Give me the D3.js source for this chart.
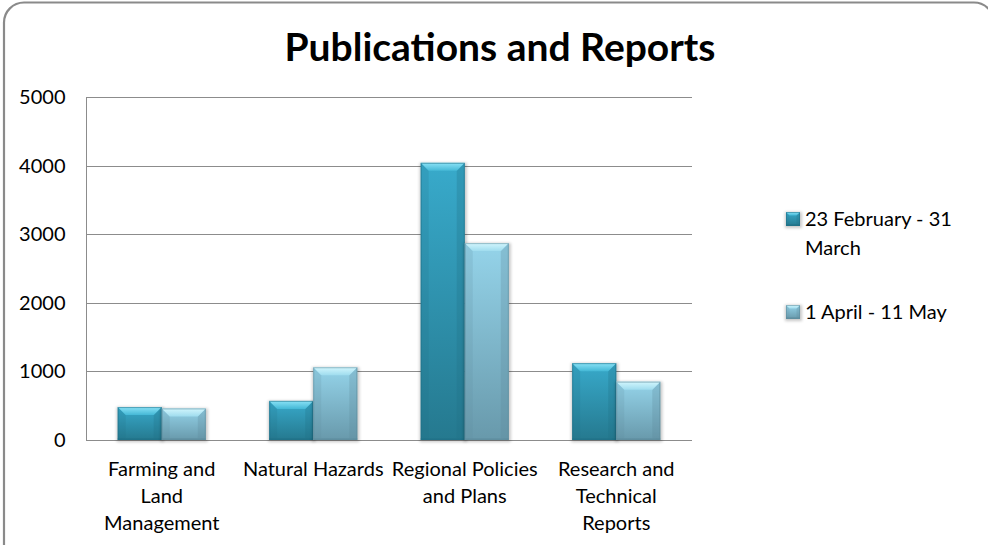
<!DOCTYPE html>
<html>
<head>
<meta charset="utf-8">
<script src="https://cdn.jsdelivr.net/npm/d3@7"></script>
<style>
  html, body { margin: 0; padding: 0; background: #fff; }
  svg { display: block; }
  text { font-family: Lato, "Noto Sans", sans-serif; fill: #000; }
</style>
</head>
<body>
<svg id="chart" width="988" height="545"></svg>
<script>
// ---- data ----
const categories = ["Farming and Land Management", "Natural Hazards", "Regional Policies and Plans", "Research and Technical Reports"];
const categoryLines = [
  ["Farming and", "Land", "Management"],
  ["Natural Hazards"],
  ["Regional Policies", "and Plans"],
  ["Research and", "Technical", "Reports"]
];
const seriesNames = ["23 February - 31 March", "1 April - 11 May"];
const legendLines = [["23 February - 31", "March"], ["1 April - 11 May"]];
const febMarch = [480, 570, 4040, 1120];
const aprilMay = [460, 1060, 2870, 850];
const yTicks = [0, 1000, 2000, 3000, 4000, 5000];
const titleText = "Publications and Reports";

// ---- layout ----
const plot = { left: 86, right: 692, top: 97, bottom: 440 };
const svg = d3.select("#chart");

// colour sets per series: body top/bottom, bevel light, edge dark
const palette = [
  { top: "#38aacb", bottom: "#25798f", bevelTop: "#8ae2f6", bevelMid: "#44b8d6", edge: "#1f6f86" },
  { top: "#95d4ea", bottom: "#6899ab", bevelTop: "#d2f6fd", bevelMid: "#9fdcee", edge: "#5c8a9b" }
];

const defs = svg.append("defs");
palette.forEach((p, i) => {
  const body = defs.append("linearGradient").attr("id", "body" + i)
    .attr("x1", 0).attr("y1", 0).attr("x2", 0).attr("y2", 1);
  body.append("stop").attr("offset", "0%").attr("stop-color", p.top);
  body.append("stop").attr("offset", "100%").attr("stop-color", p.bottom);
  const bev = defs.append("linearGradient").attr("id", "bevel" + i)
    .attr("x1", 0).attr("y1", 0).attr("x2", 0).attr("y2", 1);
  bev.append("stop").attr("offset", "0%").attr("stop-color", p.bevelTop);
  bev.append("stop").attr("offset", "100%").attr("stop-color", p.bevelMid);
});
const shadow = defs.append("filter").attr("id", "soft")
  .attr("x", "-20%").attr("y", "-20%").attr("width", "140%").attr("height", "140%");
shadow.append("feGaussianBlur").attr("stdDeviation", 1.6);

// ---- frame ----
svg.append("rect")
  .attr("x", 4).attr("y", 2.5).attr("width", 990).attr("height", 620)
  .attr("rx", 20).attr("ry", 20)
  .attr("fill", "#fff").attr("stroke", "#8a8a8a").attr("stroke-width", 2.2);

// ---- title ----
svg.append("text")
  .attr("x", 500).attr("y", 61)
  .attr("text-anchor", "middle")
  .style("font-size", "39px").style("font-weight", "bold")
  .text(titleText);

// ---- scales ----
const x0 = d3.scaleBand().domain(categories).range([plot.left, plot.right]).padding(0);
const x1 = d3.scaleBand().domain(seriesNames).range([0, x0.bandwidth()]).paddingInner(0).paddingOuter(0.72);
const y = d3.scaleLinear().domain([0, 5000]).range([plot.bottom, plot.top]);

// ---- gridlines ----
svg.append("g")
  .selectAll("line").data(yTicks).join("line")
  .attr("x1", plot.left).attr("x2", plot.right)
  .attr("y1", d => Math.round(y(d)) + 0.5).attr("y2", d => Math.round(y(d)) + 0.5)
  .attr("stroke", "#8c8c8c").attr("stroke-width", 1);

// ---- y axis ----
const yAxis = d3.axisLeft(y).tickValues(yTicks).tickSize(0).tickPadding(21).tickFormat(d3.format("d"));
const gy = svg.append("g").attr("transform", `translate(${plot.left + 0.5},0)`).call(yAxis);
gy.select(".domain").attr("stroke", "#8c8c8c").attr("d", `M0,${plot.top}V${plot.bottom}`);
gy.selectAll("text").style("font-size", "20px").style("font-family", "Lato, sans-serif").attr("fill", "#000");

// ---- bars ----
function bevelBar(g, bx, by, bw, bh, si, b) {
  const p = palette[si];
  b = Math.min(b, bh / 2, bw / 2);
  // soft shadow
  g.append("rect").attr("x", bx - 1).attr("y", by).attr("width", bw + 3).attr("height", bh + 2)
    .attr("fill", "#000").attr("opacity", 0.22).attr("filter", "url(#soft)");
  // body
  g.append("rect").attr("x", bx).attr("y", by).attr("width", bw).attr("height", bh)
    .attr("fill", `url(#body${si})`);
  // side bevels (slightly darker)
  g.append("path")
    .attr("d", `M${bx},${by}L${bx + b},${by + b}L${bx + b},${by + bh - 2}L${bx},${by + bh}Z`)
    .attr("fill", p.edge).attr("opacity", 0.18);
  g.append("path")
    .attr("d", `M${bx + bw},${by}L${bx + bw - b},${by + b}L${bx + bw - b},${by + bh - 2}L${bx + bw},${by + bh}Z`)
    .attr("fill", p.edge).attr("opacity", 0.28);
  // bottom edge
  g.append("rect").attr("x", bx).attr("y", by + bh - 2).attr("width", bw).attr("height", 2)
    .attr("fill", p.edge).attr("opacity", 0.45);
  // top bevel (bright)
  g.append("path")
    .attr("d", `M${bx},${by}L${bx + bw},${by}L${bx + bw - b},${by + b}L${bx + b},${by + b}Z`)
    .attr("fill", `url(#bevel${si})`);
  // outline
  g.append("rect").attr("x", bx + 0.5).attr("y", by + 0.5).attr("width", bw - 1).attr("height", bh - 1)
    .attr("fill", "none").attr("stroke", p.edge).attr("stroke-opacity", 0.55).attr("stroke-width", 1);
}

const barsG = svg.append("g");
const seriesValues = [febMarch, aprilMay];
categories.forEach((c, ci) => {
  seriesNames.forEach((s, si) => {
    const v = seriesValues[si][ci];
    const bx = x0(c) + x1(s);
    const by = y(v);
    const bh = y(0) - by;
    bevelBar(barsG.append("g"), bx, by, x1.bandwidth(), bh, si, 8);
  });
});

// ---- category labels ----
const catG = svg.append("g");
categories.forEach((c, ci) => {
  const cx = x0(c) + x0.bandwidth() / 2;
  const t = catG.append("text").attr("text-anchor", "middle").style("font-size", "20px");
  categoryLines[ci].forEach((line, li) => {
    t.append("tspan").attr("x", cx).attr("y", 476 + li * 27).text(line);
  });
});

// ---- legend ----
const legendG = svg.append("g");
const legendY = [219, 312];
seriesNames.forEach((s, si) => {
  const ly = legendY[si];
  bevelBar(legendG.append("g"), 786, ly - 7, 14, 14, si, 3.5);
  const t = legendG.append("text").style("font-size", "20px");
  legendLines[si].forEach((line, li) => {
    t.append("tspan").attr("x", 805).attr("y", ly + 7 + li * 29).text(line);
  });
});
</script>
</body>
</html>
